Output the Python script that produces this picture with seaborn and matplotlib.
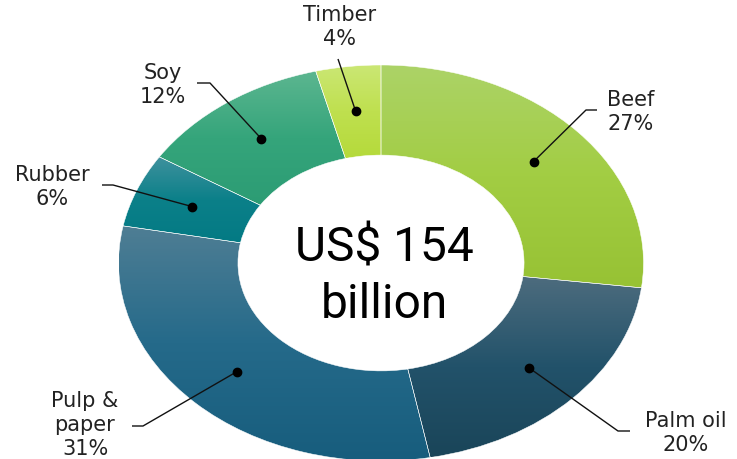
import numpy as np
import matplotlib
matplotlib.use("Agg")
import matplotlib.pyplot as plt
import seaborn as sns

# Commodity shares of the total (percent), clockwise from 12 o'clock
commodities = ["Beef", "Palm oil", "Pulp & paper", "Rubber", "Soy", "Timber"]
shares = [27, 20, 31, 6, 12, 4]
label_names = ["Beef", "Palm oil", "Pulp &\npaper", "Rubber", "Soy", "Timber"]
center_lines = ["US$ 154", "billion"]

# Vertical gradient stops (top -> middle -> bottom) for each slice
grad_top = ["#acd367", "#4d6c7e", "#4f7e94", "#3e919d", "#5cb690", "#cbe775"]
grad_mid = ["#a2cd43", "#22526a", "#256a8a", "#0b8089", "#35a57b", "#bfe04f"]
grad_bot = ["#97c234", "#1a4559", "#175d7d", "#037a84", "#2c9c74", "#b5da3b"]

sns.set_theme(style="white")
plt.rcParams["font.family"] = ["DejaVu Sans"]

W, H = 737, 460
CX, CY = 381, 264          # donut centre in pixels
RX, RY = 262.5, 198        # horizontal / vertical pixel size of one radius unit


def px(x, y):
    """Pixel position -> data coordinates of the stretched donut axes."""
    return (x - CX) / RX, (CY - y) / RY


# Leader layout: elbow and end points of each leader, and label block centre (pixels)
leaders = {
    "Beef": [(586, 111), (597, 111)],
    "Palm oil": [(618, 432), (630, 432)],
    "Pulp & paper": [(143, 427), (132, 427)],
    "Rubber": [(113, 186), (102, 186)],
    "Soy": [(210, 84), (197, 84)],
    "Timber": [(338, 60)],
}
label_pos = {
    "Beef": (631, 112),
    "Palm oil": (686, 433),
    "Pulp & paper": (85, 425),
    "Rubber": (52, 187),
    "Soy": (163, 85),
    "Timber": (340, 27),
}

fig = plt.figure(figsize=(W / 100, H / 100), dpi=100)
ax = fig.add_axes([0, 0, 1, 1])

wedges, _ = ax.pie(
    shares,
    startangle=90,
    counterclock=False,
    radius=1.0,
    wedgeprops=dict(width=0.455, facecolor="none", edgecolor="white",
                    linewidth=0.35, zorder=3),
)

for i, w in enumerate(wedges):
    ext = w.get_path().get_extents()
    cols = sns.blend_palette([grad_top[i], grad_mid[i], grad_bot[i]], n_colors=256)
    grad = np.array(cols).reshape(256, 1, 3)
    img = ax.imshow(grad, extent=[ext.x0, ext.x1, ext.y0, ext.y1],
                    origin="upper", aspect="auto", interpolation="bilinear",
                    zorder=2)
    img.set_clip_path(w)

    # dot in the middle of the slice, leader out to the label
    mid = np.deg2rad((w.theta1 + w.theta2) / 2)
    r_dot = 0.775
    dx, dy = r_dot * np.cos(mid), r_dot * np.sin(mid)
    name = commodities[i]
    pts = [(dx, dy)] + [px(*p) for p in leaders[name]]
    xs, ys = zip(*pts)
    ax.plot(xs, ys, color="#111111", lw=1.0, zorder=4, solid_capstyle="butt")
    ax.plot([dx], [dy], "o", color="black", ms=6, zorder=5)

    tx, ty = px(*label_pos[name])
    ax.text(tx, ty, f"{label_names[i]}\n{shares[i]}%", ha="center", va="center",
            multialignment="center", fontsize=15, color="#222222",
            linespacing=1.25, zorder=6)

# Total in the hole
for line, base in zip(center_lines, [262, 318]):
    x, y = px(384, base)
    ax.text(x, y, line, ha="center", va="baseline", fontsize=34.5,
            family=["Roboto", "DejaVu Sans"], color="black", zorder=6)

ax.set_aspect("auto")
ax.set_xlim(-CX / RX, (W - CX) / RX)
ax.set_ylim(-(H - CY) / RY, CY / RY)
ax.axis("off")

fig.savefig("out.png", dpi=100, facecolor="white")
